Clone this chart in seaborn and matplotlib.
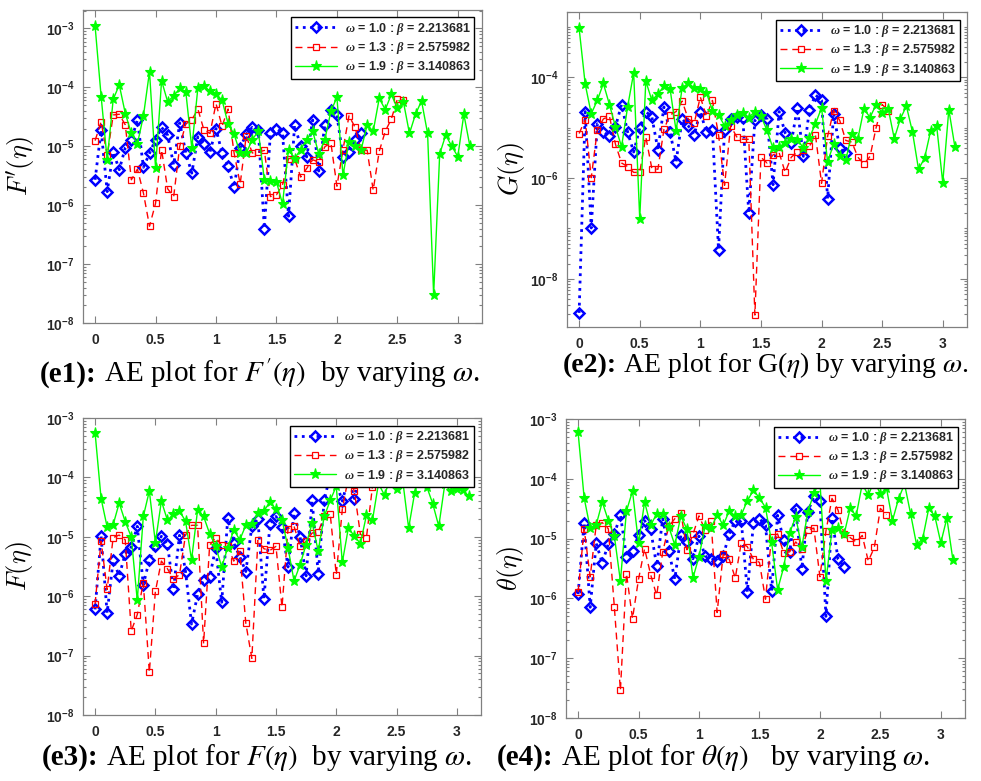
import numpy as np
import matplotlib
matplotlib.use("Agg")
import matplotlib.pyplot as plt
import seaborn as sns
from matplotlib.ticker import FixedLocator, FuncFormatter, LogLocator, NullFormatter

# ---------------- data (absolute errors, eta step 0.05) ----------------
eta_step = 0.05
labels = [r"$\omega$ = 1.0 : $\beta$ = 2.213681",
          r"$\omega$ = 1.3 : $\beta$ = 2.575982",
          r"$\omega$ = 1.9 : $\beta$ = 3.140863"]

e1_blue = [2.7e-6, 1.9e-5, 1.7e-6, 8e-6, 4e-6, 9.5e-6, 1.3e-5, 2.8e-5, 4.4e-6, 7.6e-6,
           1.3e-5, 2.1e-5, 1.55e-5, 4.8e-6, 2.5e-5, 7.8e-6, 3.5e-6, 1.45e-5, 1.1e-5, 8e-6,
           2e-5, 7.6e-6, 4.6e-6, 2e-6, 9.5e-6, 1.6e-5, 2.1e-5, 1.9e-5, 4e-7, 1.7e-5,
           2e-5, 1.7e-5, 6.5e-7, 2.3e-5, 1e-5, 6.6e-6, 2.8e-5, 3.8e-6, 2.3e-5, 4.2e-5,
           3.4e-5, 6.6e-6, 8.1e-6, 1.3e-5, 1.65e-5]
e1_red = [1.25e-5, 2.6e-5, 7e-6, 3.4e-5, 3.5e-5, 2.3e-5, 2.7e-6, 4.1e-6, 1.6e-6, 4.4e-7,
          1.07e-6, 8.7e-6, 1.9e-6, 1.4e-6, 1e-5, 2.4e-5, 2.8e-5, 4.3e-5, 1.9e-5, 1.65e-5,
          5.3e-5, 2.2e-5, 4.3e-5, 7.6e-6, 2.3e-6, 1.5e-5, 7.7e-6, 8e-6, 8.5e-6, 1.4e-6,
          1.5e-6, 2.2e-6, 6.2e-6, 6.2e-6, 3e-6, 4.2e-6, 5.9e-6, 5.4e-6, 9.8e-6, 1.15e-5,
          2.1e-6, 8.7e-6, 3.3e-5, 2.1e-5, 8.5e-6, 8.6e-6, 1.8e-6, 8.2e-6, 1.8e-5, 2.9e-5,
          6.3e-5, 6.1e-5]
e1_green = [1.1e-3, 7e-5, 5.9e-6, 6.3e-5, 1.1e-4, 3.6e-5, 1.65e-5, 1.1e-5, 3.3e-5, 1.85e-4,
            4.3e-6, 1.3e-4, 5.7e-5, 7.2e-5, 9.6e-5, 8.5e-5, 9.3e-6, 9.8e-5, 1.05e-4, 8.7e-5,
            7.6e-5, 6.1e-5, 2.4e-5, 1.6e-5, 7.6e-6, 7.6e-6, 1.3e-5, 1.8e-5, 2.7e-6, 2.6e-6,
            2.5e-6, 1.05e-6, 8.8e-6, 6.2e-6, 8.8e-6, 1.3e-5, 1.8e-5, 7.4e-6, 1.3e-5, 3.9e-5,
            6.8e-5, 3.2e-6, 1.2e-5, 1e-5, 8.7e-6, 2.3e-5, 1.8e-5, 6.5e-5, 4.2e-5, 7.6e-5,
            4.4e-5, 5.7e-5, 1.65e-5, 3.5e-5, 5.9e-5, 1.65e-5, 3e-8, 7.4e-6, 1.55e-5, 1e-5,
            6.7e-6, 3.5e-5, 1e-5]

e2_blue = [2.1e-9, 2.1e-5, 1.02e-7, 1.2e-5, 8.3e-6, 6.8e-6, 1.05e-5, 2.9e-5, 8.3e-6, 3.3e-6,
           9.7e-6, 2.1e-5, 1.65e-5, 3.7e-6, 2.6e-5, 8.3e-6, 2.1e-6, 1.5e-5, 1.1e-5, 7.3e-6,
           2.1e-5, 8.1e-6, 9e-6, 3.8e-8, 9e-6, 1.5e-5, 1.65e-5, 1.6e-5, 2e-7, 1.4e-5,
           1.8e-5, 1.5e-5, 7.4e-7, 2.1e-5, 7.9e-6, 5e-6, 2.5e-5, 2.7e-6, 2.3e-5, 4.5e-5,
           3.5e-5, 3.9e-7, 1.9e-5, 3.9e-6, 3.1e-6]
e2_red = [7.7e-6, 1.45e-5, 1.02e-6, 9e-6, 1.5e-5, 1.7e-5, 4.7e-6, 2e-6, 1.7e-6, 1.3e-6,
          1.3e-6, 6.6e-6, 1.55e-6, 1.5e-6, 9.4e-6, 1.8e-5, 2.1e-5, 3.4e-5, 1.5e-5, 1.25e-5,
          4.1e-5, 1.7e-5, 3.5e-5, 7.3e-6, 7.2e-7, 1.1e-5, 6.6e-6, 5.9e-6, 5.9e-6, 1.9e-9,
          2.6e-6, 2e-6, 2.9e-6, 3.2e-6, 1.3e-6, 2.6e-6, 3.3e-6, 3.7e-6, 4.3e-6, 7.1e-6,
          7.9e-7, 6.8e-6, 2.2e-5, 1.4e-5, 5.6e-6, 5.2e-6, 2.6e-6, 1.9e-6, 2.7e-6, 1e-5,
          2.9e-5, 2.2e-5]
e2_green = [9.5e-4, 7.4e-5, 1.9e-5, 3.5e-5, 7.6e-5, 2.9e-5, 1.05e-5, 4.2e-6, 2.6e-5, 1.24e-4,
            1.55e-7, 8.5e-5, 3.5e-5, 4.7e-5, 6.7e-5, 6e-5, 8.7e-6, 6.3e-5, 7.6e-5, 6.3e-5,
            5.8e-5, 5e-5, 2.2e-5, 1.8e-5, 1.1e-5, 1.4e-5, 1.8e-5, 2e-5, 1.6e-5, 2.1e-5,
            1.7e-5, 8.9e-6, 3.9e-6, 4.2e-6, 5e-6, 6.1e-6, 5.8e-6, 4e-6, 6.4e-6, 1.2e-5,
            2.5e-5, 2.1e-6, 4.8e-6, 2.7e-6, 2.3e-6, 7.7e-6, 6.1e-6, 2.4e-5, 1.6e-5, 2.9e-5,
            2e-5, 2.4e-5, 6.1e-6, 1.5e-5, 2.7e-5, 8.3e-6, 1.5e-6, 2.5e-6, 8.7e-6, 1.07e-5,
            8.1e-7, 2.3e-5, 4.2e-6]

e3_blue = [6e-7, 1.02e-5, 5.2e-7, 4e-6, 2.2e-6, 5.2e-6, 6.7e-6, 1.5e-5, 1.55e-6, 4.1e-6,
           6.9e-6, 1.02e-5, 7.6e-6, 1.3e-6, 1.06e-5, 2.6e-6, 3.4e-7, 1.07e-6, 1.9e-6, 2.1e-6,
           6.5e-6, 7.9e-7, 2.04e-5, 7.9e-6, 4.6e-6, 2.6e-6, 1.5e-5, 2e-5, 8.9e-7, 1.67e-5,
           2.2e-5, 1.47e-5, 3.1e-6, 2.5e-5, 1e-5, 2.2e-6, 4.1e-5, 2.4e-6, 4.1e-5, 1.12e-4,
           8.1e-5, 4e-5, 9.6e-5, 4.4e-5, 1.17e-4]
e3_red = [7.4e-7, 8.5e-6, 1.3e-6, 9.7e-6, 1.07e-5, 8.9e-6, 2.6e-7, 4.9e-7, 1.7e-6, 5.2e-8,
          1.2e-6, 3.9e-6, 2.9e-6, 1.95e-6, 2.3e-6, 1.07e-5, 1.56e-5, 1.56e-5, 1.6e-7, 7.2e-6,
          9.7e-6, 7.2e-6, 6.9e-6, 3.9e-6, 5.7e-6, 3.5e-7, 9e-8, 8.7e-6, 6.3e-6, 5.9e-6,
          6.9e-6, 6.5e-7, 1.37e-5, 1.5e-5, 6.9e-6, 8.4e-6, 1.16e-5, 1.2e-5, 2.2e-5, 2.4e-5,
          2.3e-6, 2.9e-5, 1e-4, 5.9e-5, 1.1e-5, 9.6e-6, 7e-5, 1.2e-4, 1.33e-4, 1.2e-4,
          1.6e-4, 1.77e-4]
e3_green = [5.7e-4, 4.4e-5, 1.47e-5, 1.6e-5, 3.7e-5, 1.8e-5, 1e-5, 8.5e-7, 2.2e-5, 5.9e-5,
            8e-6, 4e-5, 1.9e-5, 2.4e-5, 2.7e-5, 1.85e-5, 4.1e-6, 2.8e-5, 2.2e-5, 1.13e-5,
            6.9e-6, 3.1e-6, 6.5e-6, 1.3e-5, 8.9e-6, 1.56e-5, 1.67e-5, 2.5e-5, 2.7e-5, 3.9e-5,
            2.9e-5, 1.95e-5, 6.5e-6, 1.8e-6, 3.4e-6, 7.4e-6, 1.7e-5, 5.8e-6, 2.2e-5, 4.1e-5,
            7.1e-5, 3.7e-6, 1.4e-5, 1.03e-5, 7.7e-6, 2.3e-5, 1.9e-5, 7.9e-5, 5e-5, 1e-4,
            6.5e-5, 9.2e-5, 1.4e-5, 5.5e-5, 1.3e-4, 7e-5, 3.6e-5, 1.5e-5, 7.7e-5, 5.9e-5,
            6.5e-5, 6.1e-5, 4.8e-5]

e4_blue = [1.18e-6, 1.85e-5, 7.1e-7, 8.3e-6, 3.9e-6, 8.2e-6, 1.18e-5, 2.5e-5, 5e-6, 6.3e-6,
           1.13e-5, 2e-5, 1.42e-5, 3.5e-6, 2.15e-5, 6.3e-6, 2.1e-6, 1.13e-5, 8.7e-6, 4.6e-6,
           1.1e-5, 5.1e-6, 4.6e-6, 4.3e-6, 5.1e-6, 1.2e-5, 2e-5, 1.96e-5, 1.28e-6, 1.8e-5,
           2.15e-5, 1.67e-5, 1.34e-6, 2.45e-5, 9.5e-6, 6e-6, 3.1e-5, 3.1e-6, 2.8e-5, 5.1e-5,
           4.2e-5, 5e-7, 2.2e-5, 4.5e-6, 3.4e-6]
e4_red = [1.28e-6, 1.46e-5, 2.3e-6, 1.7e-5, 1.85e-5, 1.46e-5, 7.1e-7, 2.9e-8, 2.6e-6, 4.6e-7,
          2.1e-6, 6.8e-6, 2.5e-6, 1.12e-6, 6e-6, 1.6e-5, 2.15e-5, 2.7e-5, 6.5e-6, 1.18e-5,
          2.4e-5, 1.4e-5, 1.96e-5, 5.8e-7, 5.5e-6, 4.5e-6, 2.2e-6, 8.6e-6, 7.3e-6, 4.5e-6,
          4e-6, 9.7e-7, 1.08e-5, 1.2e-5, 5.8e-6, 6e-6, 8.8e-6, 6.8e-6, 1.4e-5, 1.5e-5,
          2.3e-6, 1.34e-5, 4.7e-5, 3e-5, 1.18e-5, 1.04e-5, 8.8e-6, 1.13e-5, 4.2e-6, 7.1e-6,
          3.2e-5, 2.5e-5]
e4_green = [6e-4, 4.8e-5, 1.5e-5, 1.7e-5, 4.1e-5, 2e-5, 1.1e-5, 1.95e-6, 2.9e-5, 6.2e-5,
            8.3e-6, 4.1e-5, 1.67e-5, 2.6e-5, 2.6e-5, 1.58e-5, 7.8e-6, 2.4e-5, 1.42e-5, 2.2e-6,
            5e-6, 1.6e-5, 1.5e-5, 2.5e-5, 1.67e-5, 2.9e-5, 2.4e-5, 2.5e-5, 4.3e-5, 6.4e-5,
            4.8e-5, 3.3e-5, 8.8e-6, 1.4e-6, 3.3e-6, 1.25e-5, 2.3e-5, 7.1e-6, 2.8e-5, 5.7e-5,
            9.1e-5, 1.95e-6, 1.4e-5, 1.5e-5, 1.18e-5, 3.2e-5, 2.4e-5, 8.2e-5, 5.3e-5, 9.4e-5,
            5.5e-5, 7.1e-5, 2e-5, 4.6e-5, 8.2e-5, 2.6e-5, 7.8e-6, 1e-5, 3.2e-5, 2.4e-5,
            8.5e-6, 2.2e-5, 4.4e-6]

x_ticks = [0, 0.5, 1, 1.5, 2, 2.5, 3]
x_ticklabels = ["0", "0.5", "1", "1.5", "2", "2.5", "3"]

ylabels = [r"$F'(\eta)$", r"$G(\eta)$", r"$F(\eta)$", r"$\theta(\eta)$"]
caption_tags = ["(e1):", "(e2):", "(e3):", "(e4):"]
caption_texts = [r" AE plot for $F'(\eta)$  by varying $\omega$.",
                 r" AE plot for G($\eta$) by varying $\omega$.",
                 r" AE plot for $F(\eta)$  by varying $\omega$.",
                 r" AE plot for $\theta(\eta)$   by varying $\omega$."]

# ---------------- style ----------------
sns.set_theme(style="ticks")
plt.rcParams.update({
    "font.family": ["Liberation Sans", "DejaVu Sans"],
    "mathtext.fontset": "custom",
    "mathtext.rm": "Liberation Sans:bold",
    "mathtext.bf": "Liberation Sans:bold",
    "mathtext.it": "Liberation Serif:italic:bold",
})

W, H = 981, 781
fig = plt.figure(figsize=(W / 100, H / 100), dpi=100)
fig.patch.set_facecolor("white")

def box(l, t, r, b):
    return [l / W, 1 - b / H, (r - l) / W, (b - t) / H]

panels = [
    dict(rect=box(83, 9.5, 482, 323), ylim=(1e-8, 2.1e-3), major=[1e-3, 1e-4, 1e-5, 1e-6, 1e-7, 1e-8],
         data=(e1_blue, e1_red, e1_green), ylx=-0.115),
    dict(rect=box(567, 12, 967, 327), ylim=(1.1e-9, 2.0e-3), major=[1e-4, 1e-6, 1e-8],
         data=(e2_blue, e2_red, e2_green), ylx=-0.10),
    dict(rect=box(83, 418, 481, 715), ylim=(1e-8, 1e-3), major=[1e-3, 1e-4, 1e-5, 1e-6, 1e-7, 1e-8],
         data=(e3_blue, e3_red, e3_green), ylx=-0.12),
    dict(rect=box(566, 419, 965, 718), ylim=(1e-8, 1e-3), major=[1e-3, 1e-4, 1e-5, 1e-6, 1e-7, 1e-8],
         data=(e4_blue, e4_red, e4_green), ylx=-0.10),
]

styles = [
    dict(color="#0000ff", linestyle=":", linewidth=2.0, marker="D", markersize=4.6,
         markeredgewidth=1.8, markeredgecolor="#0000ff", markerfacecolor="none"),
    dict(color="#ff0000", linestyle=(0, (5, 3.5)), linewidth=1.0, marker="s", markersize=4.5,
         markeredgewidth=0.9, markeredgecolor="#ff0000", markerfacecolor="none"),
    dict(color="#00ff00", linestyle="-", linewidth=1.0, marker="*", markersize=8,
         markeredgewidth=0.8, markeredgecolor="#00ff00", markerfacecolor="#00ff00"),
]

frame_col = "#808080"
text_col = "#262626"

def log_label(v, pos):
    e = int(round(np.log10(v)))
    return r"$\mathrm{10^{%d}}$" % e

# caption: left px, baseline px, font size
cap_geom = [(40, 382, 21), (563, 372, 20), (42, 765, 21), (497, 765, 21)]

for i, p in enumerate(panels):
    ax = fig.add_axes(p["rect"])
    ax.set_yscale("log")
    for vals, st in zip(p["data"], styles):
        x = np.arange(len(vals)) * eta_step
        sns.lineplot(x=x, y=np.array(vals), ax=ax, errorbar=None, sort=False,
                     legend=False, **st)
    ax.set_xlim(-0.1, 3.2)
    ax.set_ylim(*p["ylim"])
    ax.xaxis.set_major_locator(FixedLocator(x_ticks))
    ax.set_xticklabels(x_ticklabels)
    ax.yaxis.set_major_locator(FixedLocator(p["major"]))
    ax.yaxis.set_major_formatter(FuncFormatter(log_label))
    ax.yaxis.set_minor_locator(LogLocator(base=10, subs=np.arange(1, 10), numticks=100))
    ax.yaxis.set_minor_formatter(NullFormatter())
    ax.tick_params(axis="both", which="both", direction="in", top=True, right=True,
                   color=frame_col, labelcolor=text_col, width=0.8)
    ax.tick_params(axis="both", which="major", length=5, labelsize=10)
    ax.tick_params(axis="x", which="major", pad=7)
    ax.tick_params(axis="y", which="major", pad=6)
    ax.tick_params(axis="y", which="minor", length=2.5)
    for lab in ax.get_xticklabels():
        lab.set_fontweight("bold")
    for sp in ax.spines.values():
        sp.set_color(frame_col)
        sp.set_linewidth(0.9)
    ax.set_xlabel("")
    ax.set_ylabel(ylabels[i], fontsize=19, math_fontfamily="cm", color="black")
    ax.yaxis.set_label_coords(p["ylx"], 0.5)
    leg = ax.legend(ax.lines[:3], labels, loc="upper right", frameon=True, fancybox=False,
                    framealpha=1, edgecolor="black", borderpad=0.3, labelspacing=0.25,
                    handlelength=3.4, handletextpad=0.6, borderaxespad=0.6,
                    prop=dict(family="Liberation Sans", weight="bold", size=9))
    leg.get_frame().set_linewidth(1.0)

# ---------------- captions ----------------
renderer = fig.canvas.get_renderer()
for i in range(4):
    left, base, fs = cap_geom[i]
    t1 = fig.text(left / W, 1 - base / H, caption_tags[i], ha="left", va="baseline",
                  family="Liberation Serif", weight="bold", fontsize=fs, color="black")
    w1 = t1.get_window_extent(renderer).width
    fig.text((left + w1) / W, 1 - base / H, caption_texts[i], ha="left", va="baseline",
             family="Liberation Serif", fontsize=fs, math_fontfamily="stix",
             color="black")

fig.savefig("out.png", dpi=100, facecolor="white")
